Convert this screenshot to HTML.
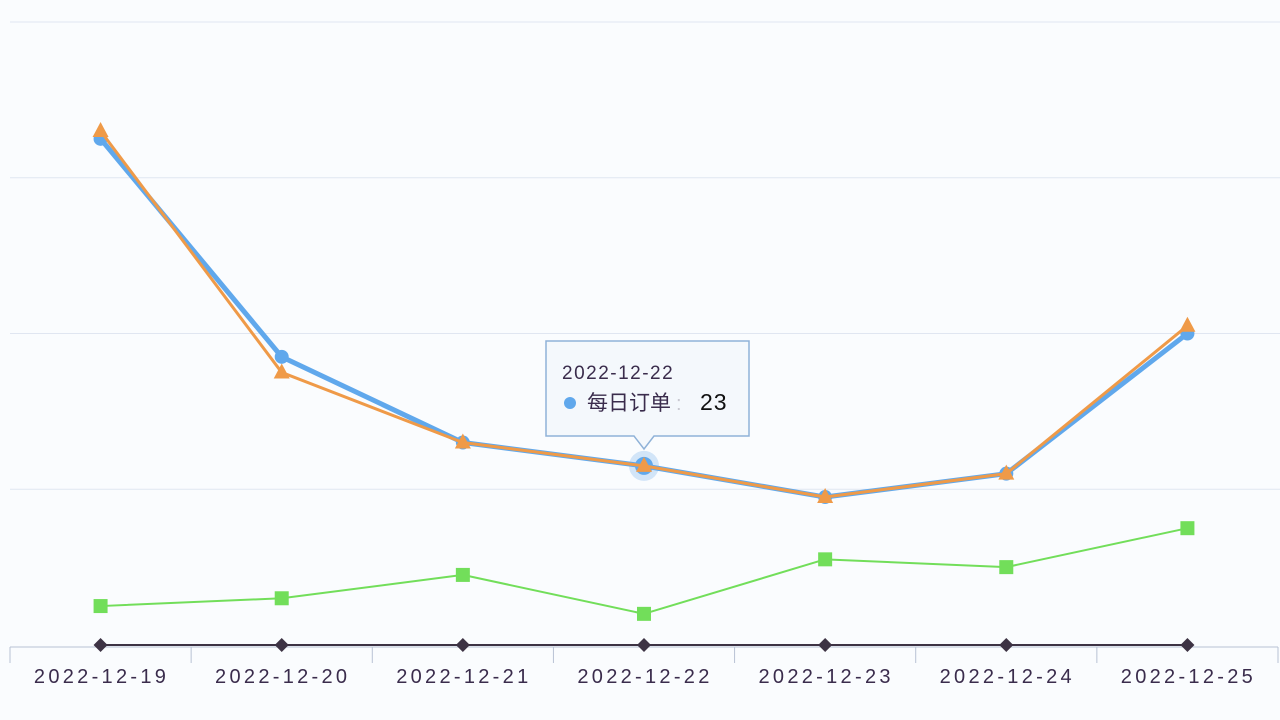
<!DOCTYPE html>
<html><head><meta charset="utf-8"><style>
html,body{margin:0;padding:0;background:#fafcfe;}
svg{display:block;font-family:"Liberation Sans","Noto Sans CJK SC",sans-serif;}
</style></head><body>
<svg id="chart" width="1280" height="720" viewBox="0 0 1280 720"></svg>
<script>
const categories=["2022-12-19","2022-12-20","2022-12-21","2022-12-22","2022-12-23","2022-12-24","2022-12-25"];
const blueValues=[65,37,26,23,19,22,40];
const orangeValues=[66,35,26,23,19,22,41];
const greenValues=[5,6,9,4,11,10,15];
const blackValues=[0,0,0,0,0,0,0];
const yTicks=[0,20,40,60,80];
const tooltipIndex=3;

const svg=document.getElementById('chart');
const NS='http://www.w3.org/2000/svg';
const x0=10,x1=1278,yBase=645,yTop=22,yMax=80;
const band=(x1-x0)/categories.length;
function xs(i){return x0+band*(i+0.5);}
function ys(v){return yBase-(v/yMax)*(yBase-yTop);}
function mk(tag,attrs,parent){const e=document.createElementNS(NS,tag);for(const k in attrs)e.setAttribute(k,attrs[k]);(parent||svg).appendChild(e);return e;}

const grid=mk('g',{});


yTicks.forEach(t=>{if(t===0)return;const l=mk('line',{x1:x0,x2:1280,y1:ys(t),y2:ys(t),stroke:'#e0e6f1','stroke-width':1},grid);

});

const axis=mk('g',{});


mk('line',{x1:x0,x2:x1,y1:yBase+2,y2:yBase+2,stroke:'#b8c2d4','stroke-width':1},axis);
for(let i=0;i<=categories.length;i++){const x=x0+band*i;mk('line',{x1:x,x2:x,y1:yBase+2,y2:yBase+18,stroke:'#b8c2d4','stroke-width':1},axis);}
categories.forEach((c,i)=>{const t=mk('text',{x:xs(i)+1,y:683,'text-anchor':'middle','font-size':20,fill:'#3a2c4c','letter-spacing':'3.3'},axis);t.textContent=c;

});

function series(vals,color,width,name,marker){
  const g=mk('g',{});
  
  
  mk('polyline',{points:vals.map((v,i)=>xs(i)+','+ys(v)).join(' '),fill:'none',stroke:color,'stroke-width':width,'stroke-linejoin':'round'},g);
  vals.forEach((v,i)=>{const x=xs(i),y=ys(v);let m;
    if(marker==='circle')m=mk('circle',{cx:x,cy:y,r:i===tooltipIndex?9:7,fill:color},g);
    else if(marker==='tri')m=mk('polygon',{points:`${x},${y-9} ${x-8},${y+6} ${x+8},${y+6}`,fill:color},g);
    else if(marker==='square')m=mk('rect',{x:x-7,y:y-7,width:14,height:14,fill:color},g);
    else m=mk('polygon',{points:`${x},${y-7} ${x+7},${y} ${x},${y+7} ${x-7},${y}`,fill:color},g);
    
    
  });
}
series(blackValues,'#3d3344',2,'series-black','diamond');
series(greenValues,'#72de5a',2,'series-green','square');
const halo=mk('circle',{cx:xs(tooltipIndex),cy:ys(blueValues[tooltipIndex]),r:15,fill:'#5aa0e8','fill-opacity':0.25});


series(blueValues,'#60a8ec',5,'series-daily-orders','circle');
series(orangeValues,'#ef9a48',3,'series-orange','tri');

const tg=mk('g',{});


const tx=xs(tooltipIndex);
mk('path',{d:`M546,341 H749 V436 H${tx+10} L${tx},449 L${tx-10},436 H546 Z`,fill:'#f4f8fc',stroke:'#8fb2d8','stroke-width':1.5},tg);
const t1=mk('text',{x:562,y:379,'font-size':19,fill:'#3a2c4c','letter-spacing':'1.5'},tg);t1.textContent=categories[tooltipIndex];
mk('circle',{cx:570,cy:403,r:6,fill:'#60a8ec'},tg);
const t2=mk('text',{x:587,y:410,'font-size':21,fill:'#3a2c4c'},tg);t2.textContent='每日订单';
const tc=mk('text',{x:676,y:410,'font-size':20,fill:'#c8c8d0'},tg);tc.textContent=':';
const t3=mk('text',{x:700,y:410,'font-size':23,fill:'#111','letter-spacing':'1'},tg);t3.textContent=String(blueValues[tooltipIndex]);
</script>
</body></html>
